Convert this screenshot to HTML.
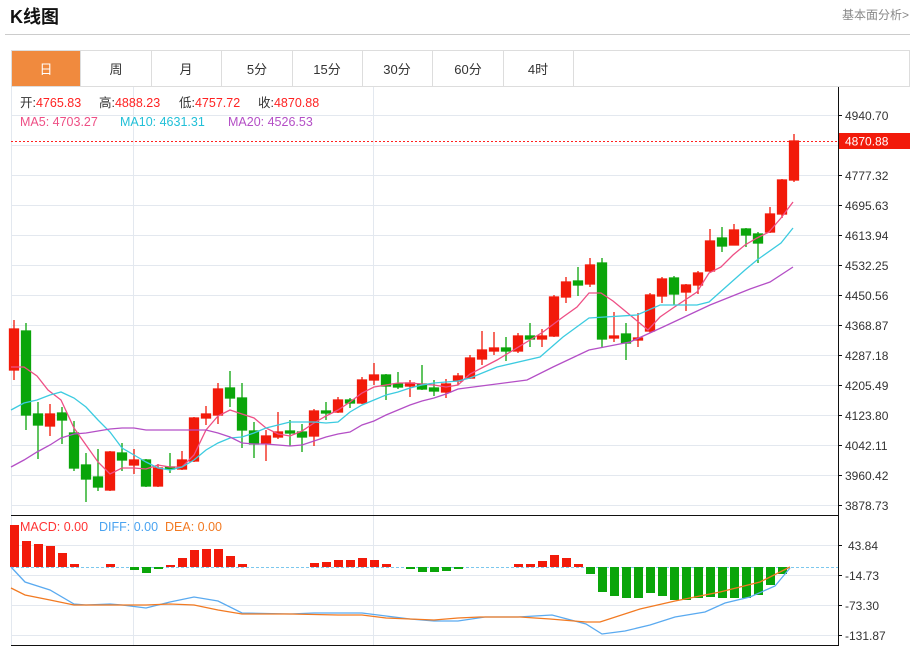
<!DOCTYPE html>
<html><head><meta charset="utf-8"><style>
body{margin:0;width:914px;height:646px;background:#fff;font-family:"Liberation Sans","Noto Sans CJK SC",sans-serif;overflow:hidden;position:relative}
.t{position:absolute}
</style></head><body>
<div class="t" style="left:10px;top:3px;font-size:18px;font-weight:bold;color:#111">K线图</div>
<div class="t" style="left:842px;top:6px;font-size:12px;color:#888">基本面分析&gt;</div>
<div class="t" style="left:5px;top:34px;width:905px;height:1px;background:#ccc"></div>
<svg class="t" style="left:0;top:0" width="914" height="646" xmlns="http://www.w3.org/2000/svg" font-family="Liberation Sans, Noto Sans CJK SC, sans-serif">
<rect x="11.5" y="50.5" width="898" height="36" fill="none" stroke="#ddd"/>
<rect x="12" y="51" width="68" height="35" fill="#f08a3e"/>
<g stroke="#ddd"><line x1="80.5" y1="51" x2="80.5" y2="86"/><line x1="151.5" y1="51" x2="151.5" y2="86"/><line x1="221.5" y1="51" x2="221.5" y2="86"/><line x1="292.5" y1="51" x2="292.5" y2="86"/><line x1="362.5" y1="51" x2="362.5" y2="86"/><line x1="432.5" y1="51" x2="432.5" y2="86"/><line x1="503.5" y1="51" x2="503.5" y2="86"/><line x1="573.5" y1="51" x2="573.5" y2="86"/></g>
<g font-size="13" text-anchor="middle" fill="#333"><text x="46" y="74" fill="#fff">日</text><text x="116" y="74">周</text><text x="186" y="74">月</text><text x="257" y="74">5分</text><text x="327" y="74">15分</text><text x="397" y="74">30分</text><text x="468" y="74">60分</text><text x="538" y="74">4时</text></g>
<g stroke="#e3e8ef" stroke-width="1">
<line x1="11" y1="115.5" x2="838" y2="115.5"/><line x1="11" y1="145.5" x2="838" y2="145.5"/><line x1="11" y1="175.5" x2="838" y2="175.5"/><line x1="11" y1="205.5" x2="838" y2="205.5"/><line x1="11" y1="235.5" x2="838" y2="235.5"/><line x1="11" y1="265.5" x2="838" y2="265.5"/><line x1="11" y1="295.5" x2="838" y2="295.5"/><line x1="11" y1="325.5" x2="838" y2="325.5"/><line x1="11" y1="355.5" x2="838" y2="355.5"/><line x1="11" y1="385.5" x2="838" y2="385.5"/><line x1="11" y1="415.5" x2="838" y2="415.5"/><line x1="11" y1="445.5" x2="838" y2="445.5"/><line x1="11" y1="475.5" x2="838" y2="475.5"/><line x1="11" y1="505.5" x2="838" y2="505.5"/>
<line x1="11" y1="545.5" x2="838" y2="545.5"/><line x1="11" y1="575.5" x2="838" y2="575.5"/><line x1="11" y1="605.5" x2="838" y2="605.5"/><line x1="11" y1="635.5" x2="838" y2="635.5"/>
<line x1="11.5" y1="87" x2="11.5" y2="645"/><line x1="133.5" y1="87" x2="133.5" y2="645"/><line x1="373.5" y1="87" x2="373.5" y2="645"/>
</g>
<g stroke="#111"><line x1="838.5" y1="87" x2="838.5" y2="646"/><line x1="11" y1="515.5" x2="839" y2="515.5"/><line x1="11" y1="645.5" x2="839" y2="645.5"/></g>
<g stroke="#111"><line x1="838" y1="115.5" x2="842" y2="115.5"/><line x1="838" y1="175.5" x2="842" y2="175.5"/><line x1="838" y1="205.5" x2="842" y2="205.5"/><line x1="838" y1="235.5" x2="842" y2="235.5"/><line x1="838" y1="265.5" x2="842" y2="265.5"/><line x1="838" y1="295.5" x2="842" y2="295.5"/><line x1="838" y1="325.5" x2="842" y2="325.5"/><line x1="838" y1="355.5" x2="842" y2="355.5"/><line x1="838" y1="385.5" x2="842" y2="385.5"/><line x1="838" y1="415.5" x2="842" y2="415.5"/><line x1="838" y1="445.5" x2="842" y2="445.5"/><line x1="838" y1="475.5" x2="842" y2="475.5"/><line x1="838" y1="505.5" x2="842" y2="505.5"/><line x1="838" y1="545.5" x2="842" y2="545.5"/><line x1="838" y1="575.5" x2="842" y2="575.5"/><line x1="838" y1="605.5" x2="842" y2="605.5"/><line x1="838" y1="635.5" x2="842" y2="635.5"/></g>
<g font-size="12" fill="#333"><text x="845" y="120">4940.70</text><text x="845" y="180">4777.32</text><text x="845" y="210">4695.63</text><text x="845" y="240">4613.94</text><text x="845" y="270">4532.25</text><text x="845" y="300">4450.56</text><text x="845" y="330">4368.87</text><text x="845" y="360">4287.18</text><text x="845" y="390">4205.49</text><text x="845" y="420">4123.80</text><text x="845" y="450">4042.11</text><text x="845" y="480">3960.42</text><text x="845" y="510">3878.73</text>
<text x="848" y="550">43.84</text><text x="845" y="580">-14.73</text><text x="845" y="610">-73.30</text><text x="845" y="640">-131.87</text></g>
<line x1="11" y1="141.5" x2="838" y2="141.5" stroke="#f22" stroke-dasharray="2,2"/>
<rect x="839" y="133" width="71" height="16" fill="#f21a0a"/>
<text x="845" y="145.5" font-size="12" fill="#fff">4870.88</text>
<g font-size="12.5"><text x="20" y="107" fill="#333">开:<tspan fill="#f22">4765.83</tspan></text><text x="99" y="107" fill="#333">高:<tspan fill="#f22">4888.23</tspan></text><text x="179" y="107" fill="#333">低:<tspan fill="#f22">4757.72</tspan></text><text x="258" y="107" fill="#333">收:<tspan fill="#f22">4870.88</tspan></text>
<text x="20" y="126" fill="#ee4f85">MA5: 4703.27</text><text x="120" y="126" fill="#22c0d8">MA10: 4631.31</text><text x="228" y="126" fill="#b44fc6">MA20: 4526.53</text>
<text x="20" y="531" fill="#f33">MACD: 0.00</text><text x="99" y="531" fill="#4aa3f0">DIFF: 0.00</text><text x="165" y="531" fill="#f27a22">DEA: 0.00</text></g>
<g stroke-width="1.3">
<g stroke="#f21a0a" fill="#f21a0a">
<line x1="14" y1="320" x2="14" y2="380"/><rect x="9.5" y="329" width="9" height="41"/>
<line x1="50" y1="404" x2="50" y2="436"/><rect x="45.5" y="414" width="9" height="12"/>
<line x1="110" y1="451" x2="110" y2="491"/><rect x="105.5" y="452" width="9" height="38"/>
<line x1="134" y1="449" x2="134" y2="474"/><rect x="129.5" y="460" width="9" height="5"/>
<line x1="158" y1="464" x2="158" y2="487"/><rect x="153.5" y="468" width="9" height="18"/>
<line x1="182" y1="451" x2="182" y2="470"/><rect x="177.5" y="460" width="9" height="9"/>
<line x1="194" y1="417" x2="194" y2="462"/><rect x="189.5" y="418" width="9" height="43"/>
<line x1="206" y1="406" x2="206" y2="425"/><rect x="201.5" y="414" width="9" height="4"/>
<line x1="218" y1="383" x2="218" y2="424"/><rect x="213.5" y="389" width="9" height="26"/>
<line x1="266" y1="430" x2="266" y2="461"/><rect x="261.5" y="436" width="9" height="7"/>
<line x1="278" y1="412" x2="278" y2="439"/><rect x="273.5" y="432" width="9" height="5"/>
<line x1="314" y1="409" x2="314" y2="446"/><rect x="309.5" y="411" width="9" height="25"/>
<line x1="338" y1="397" x2="338" y2="413"/><rect x="333.5" y="400" width="9" height="12"/>
<line x1="362" y1="377" x2="362" y2="404"/><rect x="357.5" y="380" width="9" height="23"/>
<line x1="374" y1="363" x2="374" y2="385"/><rect x="369.5" y="375" width="9" height="5"/>
<line x1="410" y1="380" x2="410" y2="397"/><rect x="405.5" y="383" width="9" height="3"/>
<line x1="446" y1="379" x2="446" y2="398"/><rect x="441.5" y="384" width="9" height="8"/>
<line x1="458" y1="373" x2="458" y2="385"/><rect x="453.5" y="376" width="9" height="5"/>
<line x1="470" y1="355" x2="470" y2="379"/><rect x="465.5" y="358" width="9" height="20"/>
<line x1="482" y1="331" x2="482" y2="365"/><rect x="477.5" y="350" width="9" height="9"/>
<line x1="494" y1="332" x2="494" y2="355"/><rect x="489.5" y="348" width="9" height="3"/>
<line x1="518" y1="333" x2="518" y2="353"/><rect x="513.5" y="336" width="9" height="15"/>
<line x1="542" y1="329" x2="542" y2="347"/><rect x="537.5" y="336" width="9" height="3"/>
<line x1="554" y1="295" x2="554" y2="337"/><rect x="549.5" y="297" width="9" height="39"/>
<line x1="566" y1="277" x2="566" y2="303"/><rect x="561.5" y="282" width="9" height="15"/>
<line x1="590" y1="258" x2="590" y2="287"/><rect x="585.5" y="265" width="9" height="19"/>
<line x1="614" y1="312" x2="614" y2="342"/><rect x="609.5" y="336" width="9" height="2"/>
<line x1="638" y1="313" x2="638" y2="347"/><rect x="633.5" y="338" width="9" height="2"/>
<line x1="650" y1="293" x2="650" y2="333"/><rect x="645.5" y="295" width="9" height="36"/>
<line x1="662" y1="277" x2="662" y2="303"/><rect x="657.5" y="279" width="9" height="17"/>
<line x1="686" y1="284" x2="686" y2="311"/><rect x="681.5" y="285" width="9" height="7"/>
<line x1="698" y1="271" x2="698" y2="294"/><rect x="693.5" y="273" width="9" height="12"/>
<line x1="710" y1="229" x2="710" y2="272"/><rect x="705.5" y="241" width="9" height="30"/>
<line x1="734" y1="224" x2="734" y2="245"/><rect x="729.5" y="230" width="9" height="15"/>
<line x1="770" y1="207" x2="770" y2="233"/><rect x="765.5" y="214" width="9" height="18"/>
<line x1="782" y1="179" x2="782" y2="218"/><rect x="777.5" y="180" width="9" height="34"/>
<line x1="794" y1="134" x2="794" y2="182"/><rect x="789.5" y="141" width="9" height="39"/>
</g>
<g stroke="#0aa50a" fill="#0aa50a">
<line x1="26" y1="323" x2="26" y2="430"/><rect x="21.5" y="331" width="9" height="84"/>
<line x1="38" y1="402" x2="38" y2="459"/><rect x="33.5" y="414" width="9" height="11"/>
<line x1="62" y1="407" x2="62" y2="444"/><rect x="57.5" y="413" width="9" height="7"/>
<line x1="74" y1="421" x2="74" y2="471"/><rect x="69.5" y="433" width="9" height="35"/>
<line x1="86" y1="453" x2="86" y2="502"/><rect x="81.5" y="465" width="9" height="14"/>
<line x1="98" y1="449" x2="98" y2="491"/><rect x="93.5" y="477" width="9" height="10"/>
<line x1="122" y1="443" x2="122" y2="471"/><rect x="117.5" y="453" width="9" height="7"/>
<line x1="146" y1="459" x2="146" y2="487"/><rect x="141.5" y="460" width="9" height="26"/>
<line x1="170" y1="453" x2="170" y2="473"/><rect x="165.5" y="467" width="9" height="2"/>
<line x1="230" y1="371" x2="230" y2="407"/><rect x="225.5" y="388" width="9" height="10"/>
<line x1="242" y1="383" x2="242" y2="448"/><rect x="237.5" y="398" width="9" height="32"/>
<line x1="254" y1="422" x2="254" y2="458"/><rect x="249.5" y="431" width="9" height="13"/>
<line x1="290" y1="420" x2="290" y2="446"/><rect x="285.5" y="431" width="9" height="2"/>
<line x1="302" y1="424" x2="302" y2="452"/><rect x="297.5" y="432" width="9" height="5"/>
<line x1="326" y1="402" x2="326" y2="420"/><rect x="321.5" y="411" width="9" height="2"/>
<line x1="350" y1="398" x2="350" y2="408"/><rect x="345.5" y="400" width="9" height="3"/>
<line x1="386" y1="374" x2="386" y2="400"/><rect x="381.5" y="375" width="9" height="11"/>
<line x1="398" y1="372" x2="398" y2="389"/><rect x="393.5" y="384" width="9" height="3"/>
<line x1="422" y1="365" x2="422" y2="390"/><rect x="417.5" y="384" width="9" height="5"/>
<line x1="434" y1="380" x2="434" y2="396"/><rect x="429.5" y="388" width="9" height="3"/>
<line x1="506" y1="337" x2="506" y2="361"/><rect x="501.5" y="348" width="9" height="3"/>
<line x1="530" y1="323" x2="530" y2="347"/><rect x="525.5" y="336" width="9" height="3"/>
<line x1="578" y1="267" x2="578" y2="296"/><rect x="573.5" y="281" width="9" height="4"/>
<line x1="602" y1="258" x2="602" y2="348"/><rect x="597.5" y="263" width="9" height="76"/>
<line x1="626" y1="323" x2="626" y2="360"/><rect x="621.5" y="334" width="9" height="9"/>
<line x1="674" y1="276" x2="674" y2="305"/><rect x="669.5" y="278" width="9" height="16"/>
<line x1="722" y1="227" x2="722" y2="252"/><rect x="717.5" y="238" width="9" height="8"/>
<line x1="746" y1="228" x2="746" y2="247"/><rect x="741.5" y="229" width="9" height="6"/>
<line x1="758" y1="232" x2="758" y2="263"/><rect x="753.5" y="234" width="9" height="9"/>
</g></g>
<g fill="none" stroke-width="1.3">
<polyline stroke="#ee4f85" points="11,367 24,367 37,376 48,390 61,400 74,428 86,445 98,462 110,474 122,468 134,468 146,469 158,465 170,467 182,467 194,455 206,430 218,416 230,410 242,414 254,418 266,428 278,434 290,436 302,431 314,423 326,416 338,410 350,402 362,393 374,387 386,385 398,383 410,383 422,384 434,385 446,387 458,385 470,374 497,360 530,340 543,332 563,317 577,307 589,293 601,293 613,301 630,315 648,330 660,317 673,308 697,292 709,273 721,267 733,255 745,245 757,238 769,232 781,218 793,202"/>
<polyline stroke="#3ccbe0" points="11,410 24,403 37,400 50,395 61,392 74,398 86,407 98,420 110,432 122,448 134,455 146,462 158,468 170,470 182,467 194,460 206,450 218,443 230,438 242,437 254,433 266,428 278,425 290,422 302,422 314,422 326,423 338,422 350,412 362,405 374,400 386,395 398,392 410,388 422,385 434,383 446,382 458,381 470,378 497,367 540,357 563,337 589,318 637,315 660,305 697,305 709,302 745,270 757,260 781,243 793,228"/>
<polyline stroke="#b44fc6" points="11,467 24,460 37,452 50,445 61,438 74,434 86,433 98,431 110,429 122,428 134,428 146,430 158,430 170,430 182,430 194,430 206,430 218,433 230,437 242,443 254,444 266,444 278,445 290,446 302,445 314,441 326,437 338,434 350,432 362,425 374,421 386,415 398,410 410,405 422,401 434,398 446,394 458,389 527,380 553,367 589,350 630,342 663,327 710,305 750,289 770,282 793,267"/>
</g>
<line x1="11" y1="567.5" x2="838" y2="567.5" stroke="#7cc8ee" stroke-dasharray="3,2"/>
<g fill="#f21a0a">
<rect x="10" y="525" width="9" height="42"/><rect x="22" y="541" width="9" height="26"/><rect x="34" y="544" width="9" height="23"/><rect x="46" y="546" width="9" height="21"/><rect x="58" y="553" width="9" height="14"/><rect x="70" y="564" width="9" height="3"/><rect x="106" y="564" width="9" height="3"/>
<rect x="166" y="565" width="9" height="2"/><rect x="178" y="558" width="9" height="9"/><rect x="190" y="550" width="9" height="17"/><rect x="202" y="549" width="9" height="18"/><rect x="214" y="549" width="9" height="18"/><rect x="226" y="556" width="9" height="11"/><rect x="238" y="564" width="9" height="3"/>
<rect x="310" y="563" width="9" height="4"/><rect x="322" y="562" width="9" height="5"/><rect x="334" y="560" width="9" height="7"/><rect x="346" y="560" width="9" height="7"/><rect x="358" y="558" width="9" height="9"/><rect x="370" y="560" width="9" height="7"/><rect x="382" y="564" width="9" height="3"/>
<rect x="514" y="564" width="9" height="3"/><rect x="526" y="564" width="9" height="3"/><rect x="538" y="561" width="9" height="6"/><rect x="550" y="555" width="9" height="12"/><rect x="562" y="558" width="9" height="9"/><rect x="574" y="564" width="9" height="3"/>
</g>
<g fill="#0aa50a">
<rect x="130" y="567" width="9" height="3"/><rect x="142" y="567" width="9" height="6"/><rect x="154" y="567" width="9" height="2"/>
<rect x="406" y="567" width="9" height="2"/><rect x="418" y="567" width="9" height="5"/><rect x="430" y="567" width="9" height="5"/><rect x="442" y="567" width="9" height="4"/><rect x="454" y="567" width="9" height="2"/>
<rect x="586" y="567" width="9" height="7"/><rect x="598" y="567" width="9" height="25"/><rect x="610" y="567" width="9" height="29"/><rect x="622" y="567" width="9" height="31"/><rect x="634" y="567" width="9" height="31"/><rect x="646" y="567" width="9" height="26"/><rect x="658" y="567" width="9" height="29"/><rect x="670" y="567" width="9" height="33"/><rect x="682" y="567" width="9" height="33"/><rect x="694" y="567" width="9" height="31"/><rect x="706" y="567" width="9" height="30"/><rect x="718" y="567" width="9" height="31"/><rect x="730" y="567" width="9" height="31"/><rect x="742" y="567" width="9" height="31"/><rect x="754" y="567" width="9" height="28"/><rect x="766" y="567" width="9" height="18"/><rect x="778" y="567" width="9" height="7"/>
</g>
<g fill="none" stroke-width="1.3">
<polyline stroke="#5aaaf0" points="11,567 25,582 50,590 74,604 86,605 110,604 122,605 146,608 170,602 194,597 218,601 242,613 290,614 314,613 338,613 362,613 386,616 410,619 434,621 458,621 485,617 518,617 552,615 586,624 602,634 625,631 650,625 675,617 705,612 725,603 750,597 775,586 790,568"/>
<polyline stroke="#f27a22" points="11,588 25,595 50,600 74,605 110,605 146,605 170,604 194,605 218,610 242,614 290,614 338,615 362,615 386,618 410,619 434,620 458,618 480,617 520,617 550,619 586,622 600,622 640,609 675,601 720,592 760,582 790,567"/>
</g>
</svg>
</body></html>
